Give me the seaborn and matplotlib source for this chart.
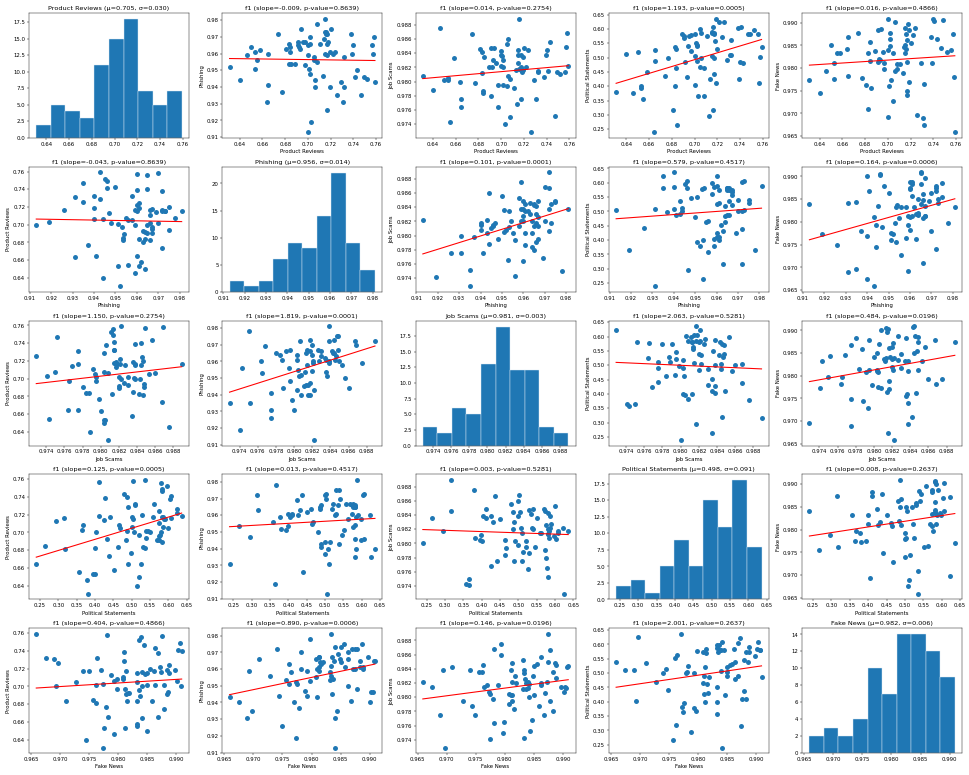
import matplotlib

matplotlib.use("Agg")
import matplotlib.pyplot as plt
import pandas as pd
import seaborn as sns

NAMES = ["Product Reviews", "Phishing", "Job Scams", "Political Statements", "Fake News"]

# f1 scores per run (same run order in every list)
product_reviews = [
    0.631, 0.640,
    0.646, 0.650, 0.653, 0.653, 0.655,
    0.658, 0.664, 0.665, 0.665,
    0.674, 0.677, 0.681,
    0.683, 0.683, 0.684, 0.684, 0.685, 0.689, 0.691, 0.691, 0.692, 0.693, 0.694,
    0.6955, 0.697, 0.697, 0.700, 0.700, 0.700, 0.701, 0.702, 0.702, 0.702, 0.703, 0.705, 0.705, 0.706, 0.706,
    0.708, 0.708, 0.711, 0.713, 0.714, 0.715, 0.715, 0.715, 0.716, 0.716, 0.717, 0.717, 0.717, 0.717,
    0.718, 0.719, 0.719, 0.720,
    0.722, 0.724, 0.726, 0.729, 0.731, 0.732, 0.732,
    0.738, 0.739, 0.740, 0.741, 0.743,
    0.747, 0.749, 0.752, 0.756, 0.757, 0.758, 0.759,
]
phishing = [
    0.952, 0.944,
    0.959, 0.964, 0.961, 0.951, 0.956,
    0.962, 0.931, 0.941, 0.960,
    0.972, 0.937, 0.963,
    0.966, 0.9535, 0.961, 0.964, 0.9535, 0.954, 0.967, 0.965, 0.964, 0.963, 0.975,
    0.967, 0.967, 0.953, 0.959, 0.965, 0.913, 0.951, 0.948, 0.966, 0.970, 0.919, 0.958, 0.956, 0.940, 0.944,
    0.955, 0.978, 0.966, 0.9468, 0.969, 0.981, 0.960, 0.973, 0.972, 0.973, 0.966, 0.959, 0.926, 0.972,
    0.967, 0.961, 0.940, 0.975,
    0.960, 0.961, 0.935, 0.943, 0.931, 0.958, 0.940,
    0.972, 0.960, 0.965, 0.946, 0.950,
    0.935, 0.946, 0.945, 0.965, 0.960, 0.970, 0.943,
]
job_scams = [
    0.9808, 0.9788,
    0.9875, 0.9803, 0.9803, 0.9805, 0.9743,
    0.9834, 0.9800, 0.9775, 0.9764,
    0.9867, 0.9798, 0.9846,
    0.9842, 0.9812, 0.9787, 0.9784, 0.9835, 0.9820, 0.9848, 0.9780, 0.9820, 0.9830, 0.9848,
    0.9826, 0.9795, 0.9765, 0.9838, 0.9843, 0.9822, 0.9836, 0.9795, 0.9830, 0.9820, 0.9741, 0.9853, 0.9794,
    0.9808, 0.9860,
    0.9804, 0.9750, 0.9791, 0.9817, 0.9768, 0.9838, 0.9827, 0.9844, 0.9889, 0.9818, 0.9817, 0.9821, 0.9775,
    0.9838, 0.9814, 0.9835, 0.9817, 0.9847,
    0.9821, 0.9845, 0.9729, 0.9803, 0.9775, 0.9814, 0.9815,
    0.9806, 0.9838, 0.9844, 0.9815, 0.9856,
    0.9752, 0.9813, 0.9811, 0.9813, 0.9849, 0.9868, 0.9822,
]
political = [
    0.381, 0.513,
    0.378, 0.520, 0.400, 0.395, 0.357,
    0.451, 0.240, 0.489, 0.526,
    0.437, 0.499, 0.318,
    0.535, 0.399, 0.530, 0.463, 0.265, 0.582, 0.569, 0.575, 0.485, 0.432, 0.539,
    0.575, 0.521, 0.577, 0.404, 0.581, 0.506, 0.551, 0.545, 0.488, 0.540, 0.365, 0.599, 0.467, 0.584, 0.500,
    0.464, 0.366, 0.574, 0.295, 0.425, 0.587, 0.590, 0.504, 0.316, 0.607, 0.583, 0.585, 0.441, 0.500,
    0.558, 0.411, 0.636, 0.529,
    0.623, 0.573, 0.624, 0.490, 0.510, 0.562, 0.509,
    0.603, 0.426, 0.486, 0.607, 0.480,
    0.582, 0.582, 0.597, 0.581, 0.411, 0.503, 0.537,
]
fake_news = [
    0.9773, 0.9744,
    0.9793, 0.9850, 0.9812, 0.9775, 0.9833,
    0.9833, 0.9841, 0.9868, 0.9782,
    0.9878, 0.9779, 0.9762,
    0.9710, 0.9832, 0.9858, 0.9815, 0.9756, 0.9837, 0.9813, 0.9883, 0.9819, 0.9817, 0.9886,
    0.9835, 0.9812, 0.9798, 0.9693, 0.9907, 0.9840, 0.9761, 0.9878, 0.9849, 0.9863, 0.9774, 0.9832, 0.9728,
    0.9901, 0.9793,
    0.9808, 0.9797, 0.9808, 0.9788, 0.9846, 0.9833, 0.9888, 0.9850, 0.9874, 0.9841, 0.9862, 0.9813, 0.9749,
    0.9740, 0.9897, 0.9883, 0.9770, 0.9855,
    0.9872, 0.9888, 0.9697, 0.9810, 0.9689, 0.9764, 0.9675,
    0.9869, 0.9810, 0.9909, 0.9903, 0.9863,
    0.9844, 0.9906, 0.9836, 0.9839, 0.9875, 0.9781, 0.9659,
]

# statistics printed in the panel titles
MEANS = [0.705, 0.956, 0.981, 0.498, 0.982]
STDS = [0.030, 0.014, 0.003, 0.091, 0.006]
# row = x variable, column = y variable
SLOPES = [
    [None, -0.009, 0.014, 1.193, 0.016],
    [-0.043, None, 0.101, 0.579, 0.164],
    [1.150, 1.819, None, 2.063, 0.484],
    [0.125, 0.013, 0.003, None, 0.008],
    [0.404, 0.890, 0.146, 2.001, None],
]
PVALUES = [
    [None, 0.8639, 0.2754, 0.0005, 0.4866],
    [0.8639, None, 0.0001, 0.4517, 0.0006],
    [0.2754, 0.0001, None, 0.5281, 0.0196],
    [0.0005, 0.4517, 0.5281, None, 0.2637],
    [0.4866, 0.0006, 0.0196, 0.2637, None],
]


def main():
    df = pd.DataFrame(
        {
            NAMES[0]: product_reviews,
            NAMES[1]: phishing,
            NAMES[2]: job_scams,
            NAMES[3]: political,
            NAMES[4]: fake_news,
        }
    )

    n = len(NAMES)
    fig, axes = plt.subplots(n, n, figsize=(25, 20), dpi=38.76)

    for i in range(n):
        for j in range(n):
            ax = axes[i, j]
            if i == j:
                sns.histplot(
                    x=df[NAMES[i]], bins=10, ax=ax, color="#1f77b4",
                    alpha=1.0, edgecolor="#dce9f5", linewidth=0.8,
                )
                ax.set_title(f"{NAMES[i]} (\u03bc={MEANS[i]:.3f}, \u03c3={STDS[i]:.3f})")
                ax.set_xlabel("")
                ax.set_ylabel("")
            else:
                sns.scatterplot(
                    x=df[NAMES[i]], y=df[NAMES[j]], ax=ax,
                    s=85, color="#1f77b4", linewidth=0,
                )
                sns.regplot(
                    x=df[NAMES[i]], y=df[NAMES[j]], ax=ax, scatter=False,
                    ci=None, color="red", line_kws={"linewidth": 2},
                )
                ax.set_title(
                    f"f1 (slope={SLOPES[i][j]:.3f}, p-value={PVALUES[i][j]:.4f})"
                )
                ax.set_xlabel(NAMES[i])
                ax.set_ylabel(NAMES[j])

    fig.tight_layout()
    fig.savefig("out.png", dpi=38.76)
    plt.close(fig)


if __name__ == "__main__":
    main()
